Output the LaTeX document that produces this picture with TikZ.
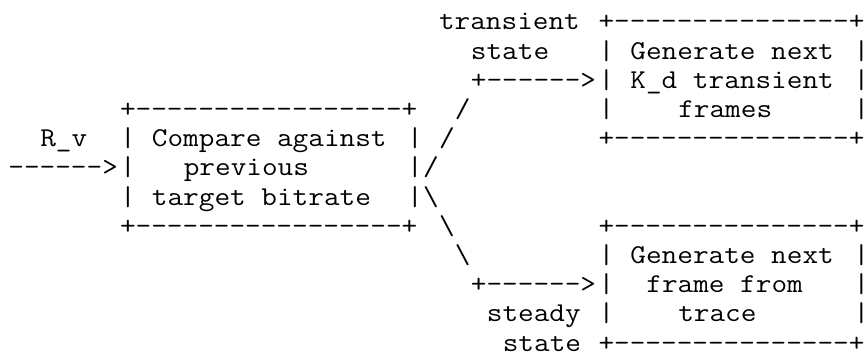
\documentclass[tikz,border=0pt]{standalone}
\usepackage{fontspec}
\setmonofont{Latin Modern Mono}[FakeStretch=1.117]
\begin{document}
\begin{tikzpicture}[x=7.975pt, y=-14.6pt,
  ascii/.style={inner sep=0pt, outer sep=0pt, anchor=base west,
    font=\ttfamily\fontsize{13.6pt}{14.6pt}\selectfont}]
\useasboundingbox (0,0) rectangle (54.17,12.19);
\begin{scope}[shift={(-0.475,1.027)}]
% row 0
\node[ascii] (lblTrans) at (28,0) {transient};
\node[ascii] (boxAtop) at (38,0) {+---------------+};
% row 1
\node[ascii] (lblTransState) at (30,1) {state};
\node[ascii] (boxAl1) at (38,1) {|};
\node[ascii] (boxAt1) at (40,1) {Generate next};
\node[ascii] (boxAr1) at (54,1) {|};
% row 2
\node[ascii] (arrA) at (30,2) {+------>};
\node[ascii] (boxAl2) at (38,2) {|};
\node[ascii] (boxAt2) at (40,2) {K\_d transient};
\node[ascii] (boxAr2) at (54,2) {|};
% row 3
\node[ascii] (boxCtop) at (8,3) {+-----------------+};
\node[ascii] (slA3) at (29,3) {/};
\node[ascii] (boxAl3) at (38,3) {|};
\node[ascii] (boxAt3) at (43,3) {frames};
\node[ascii] (boxAr3) at (54,3) {|};
% row 4
\node[ascii] (lblRv) at (3,4) {R\_v};
\node[ascii] (boxCl4) at (8,4) {|};
\node[ascii] (boxCt4) at (10,4) {Compare against};
\node[ascii] (boxCr4) at (26,4) {|};
\node[ascii] (slA4) at (28,4) {/};
\node[ascii] (boxAbot) at (38,4) {+---------------+};
% row 5
\node[ascii] (arrIn) at (1,5) {------>};
\node[ascii] (boxCl5) at (8,5) {|};
\node[ascii] (boxCt5) at (12,5) {previous};
\node[ascii] (boxCr5) at (26,5) {|};
\node[ascii] (slA5) at (27,5) {/};
% row 6
\node[ascii] (boxCl6) at (8,6) {|};
\node[ascii] (boxCt6) at (10,6) {target bitrate};
\node[ascii] (boxCr6) at (26,6) {|};
\node[ascii] (slB6) at (27,6) {\textbackslash};
% row 7
\node[ascii] (boxCbot) at (8,7) {+-----------------+};
\node[ascii] (slB7) at (28,7) {\textbackslash};
\node[ascii] (boxBtop) at (38,7) {+---------------+};
% row 8
\node[ascii] (slB8) at (29,8) {\textbackslash};
\node[ascii] (boxBl8) at (38,8) {|};
\node[ascii] (boxBt8) at (40,8) {Generate next};
\node[ascii] (boxBr8) at (54,8) {|};
% row 9
\node[ascii] (arrB) at (30,9) {+------>};
\node[ascii] (boxBl9) at (38,9) {|};
\node[ascii] (boxBt9) at (41,9) {frame from};
\node[ascii] (boxBr9) at (54,9) {|};
% row 10
\node[ascii] (lblSteady) at (31,10) {steady};
\node[ascii] (boxBl10) at (38,10) {|};
\node[ascii] (boxBt10) at (43,10) {trace};
\node[ascii] (boxBr10) at (54,10) {|};
% row 11
\node[ascii] (lblSteadyState) at (32,11) {state};
\node[ascii] (boxBbot) at (38,11) {+---------------+};
\end{scope}
\end{tikzpicture}
\end{document}
